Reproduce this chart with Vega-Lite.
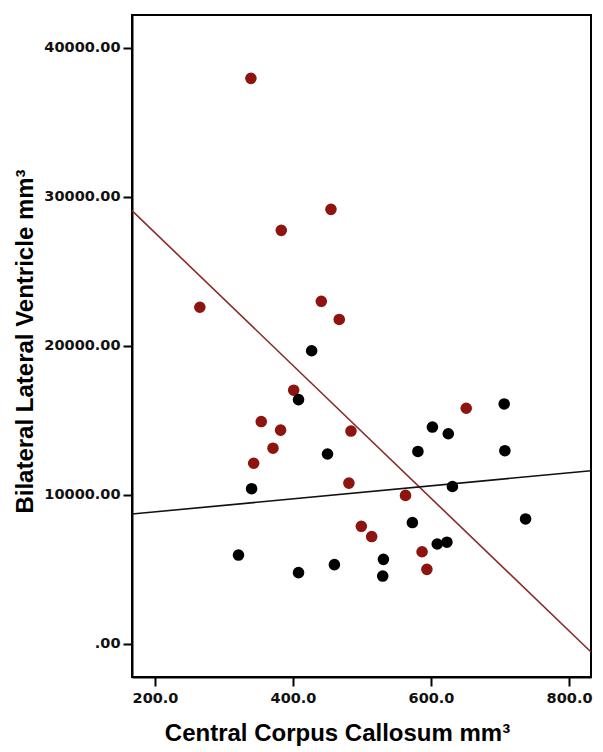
{
  "$schema": "https://vega.github.io/schema/vega-lite/v6.json",
  "autosize": "none",
  "width": 459,
  "height": 662,
  "padding": {"left": 132, "top": 15, "right": 12, "bottom": 75},
  "background": "white",
  "config": {
    "view": {"stroke": "black", "strokeWidth": 2},
    "axis": {
      "grid": false,
      "domain": true,
      "domainColor": "black",
      "domainWidth": 2,
      "tickColor": "black",
      "tickWidth": 2,
      "tickSize": 9,
      "labelFont": "DejaVu Sans",
      "labelFontWeight": "bold",
      "labelFontSize": 14.5,
      "labelColor": "#111",
      "titleFont": "Liberation Sans",
      "titleFontWeight": "bold",
      "titleFontSize": 24,
      "titleColor": "black"
    }
  },
  "datasets": {
    "pts": [
      {"cc": 265, "vent": 22600, "group": "red"},
      {"cc": 339, "vent": 37960, "group": "red"},
      {"cc": 383, "vent": 27760, "group": "red"},
      {"cc": 441, "vent": 23000, "group": "red"},
      {"cc": 455, "vent": 29170, "group": "red"},
      {"cc": 467, "vent": 21780, "group": "red"},
      {"cc": 401, "vent": 17030, "group": "red"},
      {"cc": 354, "vent": 14930, "group": "red"},
      {"cc": 382, "vent": 14350, "group": "red"},
      {"cc": 484, "vent": 14290, "group": "red"},
      {"cc": 371, "vent": 13140, "group": "red"},
      {"cc": 343, "vent": 12130, "group": "red"},
      {"cc": 481, "vent": 10800, "group": "red"},
      {"cc": 563, "vent": 9970, "group": "red"},
      {"cc": 499, "vent": 7900, "group": "red"},
      {"cc": 514, "vent": 7210, "group": "red"},
      {"cc": 587, "vent": 6190, "group": "red"},
      {"cc": 594, "vent": 5010, "group": "red"},
      {"cc": 651, "vent": 15820, "group": "red"},
      {"cc": 427, "vent": 19680, "group": "black"},
      {"cc": 408, "vent": 16400, "group": "black"},
      {"cc": 450, "vent": 12750, "group": "black"},
      {"cc": 340, "vent": 10420, "group": "black"},
      {"cc": 321, "vent": 5970, "group": "black"},
      {"cc": 408, "vent": 4790, "group": "black"},
      {"cc": 460, "vent": 5330, "group": "black"},
      {"cc": 581, "vent": 12920, "group": "black"},
      {"cc": 602, "vent": 14560, "group": "black"},
      {"cc": 625, "vent": 14110, "group": "black"},
      {"cc": 706, "vent": 16110, "group": "black"},
      {"cc": 707, "vent": 12970, "group": "black"},
      {"cc": 631, "vent": 10570, "group": "black"},
      {"cc": 573, "vent": 8150, "group": "black"},
      {"cc": 737, "vent": 8390, "group": "black"},
      {"cc": 609, "vent": 6710, "group": "black"},
      {"cc": 623, "vent": 6830, "group": "black"},
      {"cc": 531, "vent": 5680, "group": "black"},
      {"cc": 530, "vent": 4560, "group": "black"}
    ],
    "fits": [
      {"cc": 166.7, "vent": 29080, "group": "red"},
      {"cc": 831.8, "vent": -540, "group": "red"},
      {"cc": 166.7, "vent": 8720, "group": "black"},
      {"cc": 831.8, "vent": 11630, "group": "black"}
    ]
  },
  "encoding": {
    "x": {
      "field": "cc",
      "type": "quantitative",
      "scale": {"domain": [166.7, 831.8], "nice": false, "zero": false},
      "axis": {
        "values": [200, 400, 600, 800],
        "format": ".1f",
        "labelPadding": 5,
        "title": "Central Corpus Callosum mm³",
        "titleX": 205,
        "titleY": 63,
        "titleBaseline": "alphabetic",
        "titleAnchor": null,
        "titleAlign": "center"
      }
    },
    "y": {
      "field": "vent",
      "type": "quantitative",
      "scale": {"domain": [-2215, 42212], "nice": false, "zero": false},
      "axis": {
        "values": [0, 10000, 20000, 30000, 40000],
        "labelExpr": "datum.value == 0 ? '.00' : format(datum.value, '.2f')",
        "labelPadding": 3,
        "title": "Bilateral Lateral Ventricle mm³",
        "titleX": -100,
        "titleY": 326,
        "titleAnchor": null,
        "titleAlign": "center",
        "titleBaseline": "alphabetic"
      }
    }
  },
  "layer": [
    {
      "data": {"name": "fits"},
      "mark": {"type": "line", "strokeWidth": 1.6},
      "encoding": {
        "detail": {"field": "group"},
        "color": {
          "field": "group",
          "type": "nominal",
          "scale": {"domain": ["red", "black"], "range": ["#8b2a2a", "#111111"]},
          "legend": null
        }
      }
    },
    {
      "data": {"name": "pts"},
      "mark": {"type": "circle", "size": 135, "opacity": 1},
      "encoding": {
        "color": {
          "field": "group",
          "type": "nominal",
          "scale": {"domain": ["red", "black"], "range": ["#8e1410", "#000000"]},
          "legend": null
        }
      }
    }
  ],
  "resolve": {"scale": {"color": "independent"}}
}
